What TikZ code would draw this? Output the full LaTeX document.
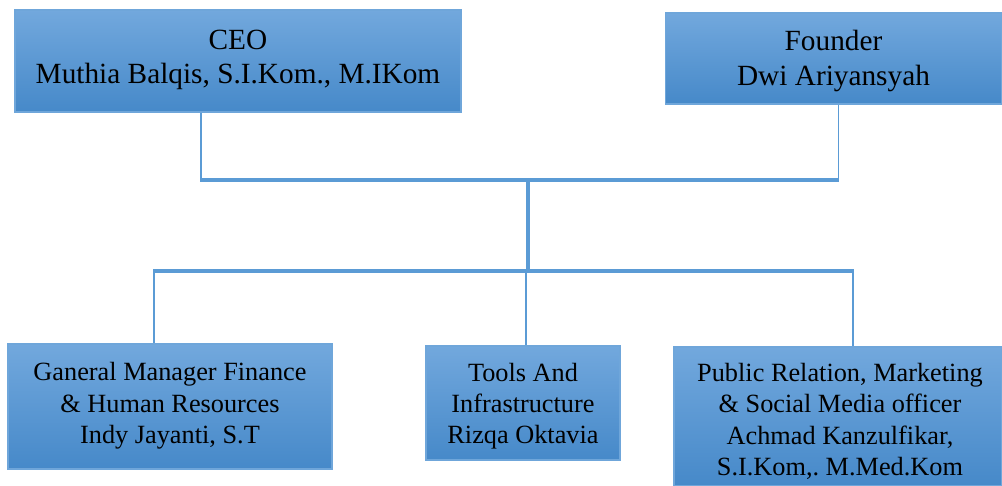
\documentclass[tikz,border=0pt]{standalone}
\usepackage{fontspec}
\setmainfont{Liberation Serif}
\newfontfamily\tnr{Liberation Serif}
\frenchspacing
\definecolor{boxtop}{HTML}{72A8DD}
\definecolor{boxbot}{HTML}{4689C9}
\definecolor{boxline}{HTML}{6FA6DA}
\definecolor{conn}{HTML}{5B9BD5}
\tikzset{
  orgbox/.style={draw=boxline, line width=1.2pt, top color=boxtop, bottom color=boxbot, inner sep=0pt},
  toptext/.style={align=center, text=black, inner sep=0pt, font=\tnr\frenchspacing\fontsize{29.3}{34.5}\selectfont},
  bottext/.style={align=center, text=black, inner sep=0pt, font=\tnr\frenchspacing\fontsize{26.3}{31.3}\selectfont},
  thinconn/.style={draw=conn, line width=1.6pt},
  thickconn/.style={draw=conn, line width=3.4pt},
}
\begin{document}
\begin{tikzpicture}[x=1pt,y=-1pt]
\useasboundingbox (0,0) rectangle (1002,486);
\node[orgbox, minimum width=446pt, minimum height=102pt] (ceo) at (238,61) {};
\node[toptext] (ceoT) at (238,60) {CEO\\Muthia Balqis, S.I.Kom., M.IKom};
\node[orgbox, minimum width=336pt, minimum height=91pt] (founder) at (833.5,58.5) {};
\node[toptext] (founderT) at (833.5,61) {Founder\\Dwi Ariyansyah};
\node[orgbox, minimum width=324pt, minimum height=125pt] (gm) at (170,406.5) {};
\node[bottext] (gmT) at (170,406) {Ganeral Manager Finance\\\& Human Resources\\Indy Jayanti, S.T};
\node[orgbox, minimum width=194pt, minimum height=114pt] (tools) at (523,403) {};
\node[bottext] (toolsT) at (523,406) {Tools And\\Infrastructure\\Rizqa Oktavia};
\node[orgbox, minimum width=328pt, minimum height=139pt] (pr) at (838,416.5) {};
\node[bottext] (prT) at (840,421.5) {Public Relation, Marketing\\\& Social Media officer\\Achmad Kanzulfikar,\\S.I.Kom,. M.Med.Kom};
\coordinate (hL) at (201,180);
\coordinate (hR) at (838.5,180);
\coordinate (hM) at (528,180);
\coordinate (bM) at (528,271);
\coordinate (bL) at (154,271);
\coordinate (bR) at (853,271);
\coordinate (bT) at (526,271);
\draw[thinconn] (ceo.south -| hL) -- (hL);
\draw[thinconn] (founder.south -| hR) -- (hR);
\draw[thickconn] ([xshift=-0.8pt]hL) -- ([xshift=0.8pt]hR);
\draw[thickconn] (hM) -- (bM);
\draw[thickconn] ([xshift=-0.8pt]bL) -- ([xshift=0.8pt]bR);
\draw[thinconn] (bL) -- (gm.north -| bL);
\draw[thinconn] (bT) -- (tools.north -| bT);
\draw[thinconn] (bR) -- (pr.north -| bR);
\end{tikzpicture}
\end{document}
